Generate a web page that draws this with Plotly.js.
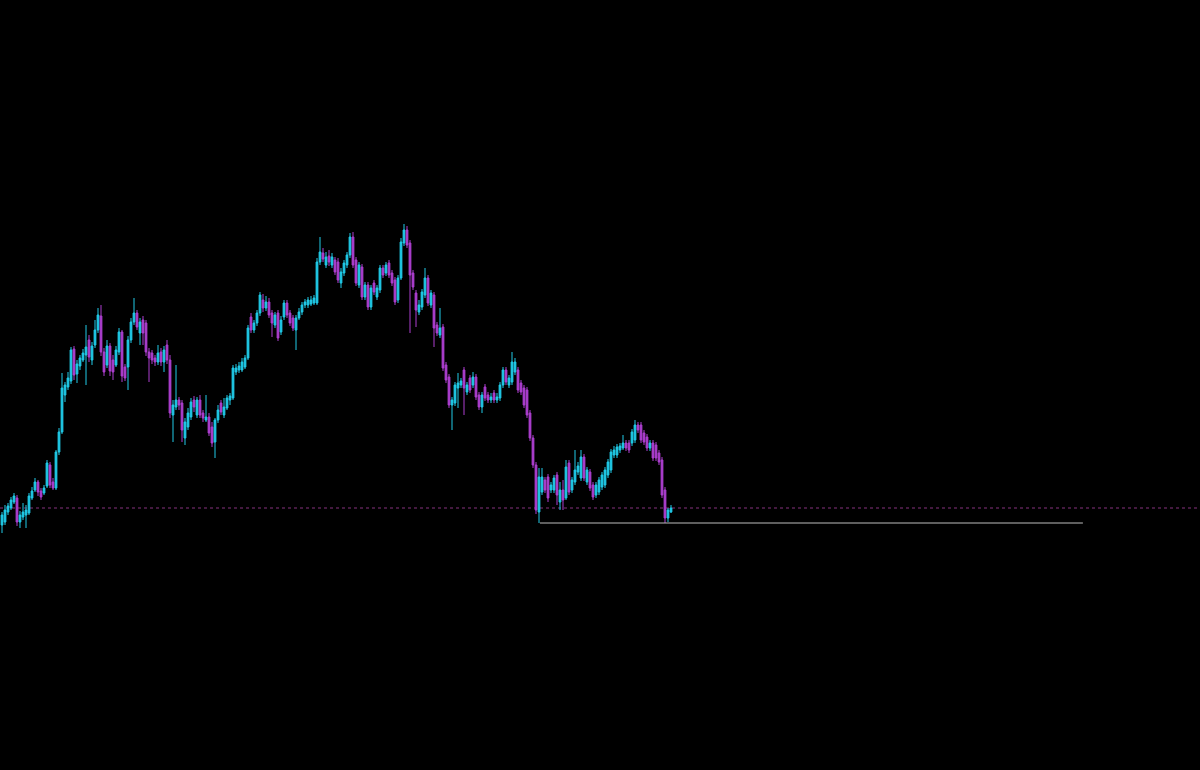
<!DOCTYPE html>
<html>
<head>
<meta charset="utf-8">
<script src="https://cdn.plot.ly/plotly-3.0.1.min.js"></script>
<style>
html,body{margin:0;padding:0;background:#000;}
#chart{width:1200px;height:770px;}
</style>
</head>
<body>
<div id="chart"></div>
<script>
const openP = [245,248,258,262,268,272,248,253,255,257,272,280,288,279,277,284,305,288,282,318,
338,375,383,389,421,396,404,410,415,430,410,425,440,454,418,405,424,410,405,418,
438,403,403,430,448,457,437,450,447,418,417,412,408,418,408,425,410,355,363,370,
367,332,343,353,370,355,370,357,350,353,343,328,350,367,355,362,370,372,398,400,
400,403,412,453,440,447,457,470,462,468,457,445,457,438,453,467,457,452,440,452,
458,465,465,466,467,467,508,517,505,514,505,510,508,487,497,505,515,533,510,485,
503,473,485,463,487,473,480,502,497,507,497,490,470,492,527,540,527,497,477,458,
463,475,492,465,475,445,435,443,405,393,365,367,382,385,400,378,392,385,393,375,
363,383,375,370,377,370,372,385,400,385,388,398,400,387,382,380,357,332,305,258,
278,290,293,280,280,295,268,280,272,307,280,288,298,292,313,288,298,285,275,278,
283,285,295,300,315,315,320,322,327,327,327,330,345,345,337,333,322,327,325,317,
310,280,252,258];
const highP = [258,265,267,273,277,275,259,267,265,277,283,292,290,282,285,310,308,292,320,342,
397,388,398,423,424,410,415,421,445,435,428,450,462,465,422,430,427,415,424,442,
440,406,434,452,472,460,452,454,450,422,420,415,425,422,424,430,415,370,405,373,
370,352,362,372,374,373,375,360,375,357,348,352,365,370,372,375,377,405,406,408,
412,415,445,457,450,460,478,476,474,472,460,458,460,454,470,470,460,455,455,462,
468,471,473,474,475,512,533,522,518,520,517,513,512,502,510,518,537,538,513,508,
506,488,488,485,490,485,505,505,508,510,500,493,495,532,546,544,530,500,480,470,
481,502,495,480,478,448,462,446,408,396,373,388,397,392,403,388,395,398,396,378,
378,386,378,377,380,377,388,403,403,395,418,412,403,390,385,383,360,335,308,302,
302,293,296,288,295,298,288,290,310,310,293,320,308,320,316,303,301,288,288,293,
298,303,311,321,324,326,327,335,330,330,341,350,348,348,340,336,330,330,328,320,
313,283,262,265];
const lowP = [237,245,255,260,266,244,242,250,242,255,270,278,274,270,275,282,282,280,280,315,
336,368,380,386,390,387,400,408,385,408,405,422,437,414,394,402,394,390,403,415,
388,389,380,427,445,440,425,425,414,388,406,404,405,404,398,406,352,328,360,360,
328,325,340,350,358,352,352,348,348,334,323,312,347,355,352,360,365,370,395,397,
398,401,410,437,437,444,454,458,459,452,433,442,429,435,450,452,444,439,420,450,
455,462,462,464,465,465,505,508,502,504,502,495,487,482,494,502,512,502,484,482,
470,470,460,460,475,470,477,492,494,492,484,465,467,490,524,522,437,480,443,455,
460,472,464,462,423,434,432,399,387,362,340,364,362,382,355,375,377,382,370,360,
357,369,367,367,367,367,369,382,385,382,385,395,377,375,362,352,329,302,256,247,
275,277,268,277,277,265,260,260,270,275,277,285,295,289,289,285,279,270,272,275,
280,282,292,297,312,312,317,320,319,317,324,327,337,327,325,319,319,309,309,305,
272,247,248,257];
const closeP = [255,260,264,270,274,248,255,258,260,274,279,288,278,273,282,307,285,282,318,338,
382,385,392,420,395,406,412,417,423,413,424,440,455,418,398,424,399,398,420,438,
394,392,430,448,457,443,448,437,418,412,410,408,417,408,420,410,357,365,370,365,
340,348,357,368,363,370,355,352,353,337,327,350,360,358,363,372,374,402,402,404,
408,412,442,440,447,457,475,462,468,455,447,455,432,450,467,455,447,442,452,458,
465,468,470,470,472,508,518,511,513,508,513,498,490,498,507,515,533,505,487,505,
473,485,463,482,478,482,502,495,505,495,487,468,492,528,540,525,495,483,460,465,
478,492,467,477,442,437,442,402,390,365,370,385,387,389,382,385,380,393,373,363,
375,372,370,373,370,373,385,400,388,392,408,408,380,378,365,355,332,305,260,293,
293,280,272,285,292,275,280,270,303,278,290,300,304,313,292,300,282,273,285,290,
295,300,308,318,320,323,324,327,322,320,338,345,340,330,328,322,327,312,312,308,
275,252,260,262];

const candleIdx = openP.map((_, i) => i);
const bidLevel = closeP[closeP.length - 1];
const supportLevel = 247;
const supportStart = 179.3;
const supportEnd = 360.3;

const bullColor = '#20cbe8';
const bearColor = '#ad3fd0';

const trace = {
  type: 'candlestick',
  x: candleIdx,
  open: openP, high: highP, low: lowP, close: closeP,
  increasing: {line: {color: bullColor, width: 1}, fillcolor: bullColor},
  decreasing: {line: {color: bearColor, width: 1}, fillcolor: bearColor},
  whiskerwidth: 0,
  hoverinfo: 'skip'
};

const layout = {
  width: 1200, height: 770,
  paper_bgcolor: '#000', plot_bgcolor: '#000',
  margin: {l: 0, r: 0, t: 0, b: 0},
  showlegend: false,
  boxgap: 0.15,
  xaxis: {visible: false, range: [-0.667, 399.333], rangeslider: {visible: false}, fixedrange: true},
  yaxis: {visible: false, range: [0, 770], fixedrange: true},
  shapes: [
    {type: 'line', xref: 'paper', x0: 0, x1: 1, yref: 'y', y0: bidLevel, y1: bidLevel,
     line: {color: '#86327e', width: 1, dash: 'dot'}, layer: 'below'},
    {type: 'line', xref: 'x', x0: supportStart, x1: supportEnd, yref: 'y', y0: supportLevel, y1: supportLevel,
     line: {color: '#bdbdbd', width: 1}}
  ]
};

Plotly.newPlot('chart', [trace], layout, {staticPlot: true, displayModeBar: false});
</script>
</body>
</html>
